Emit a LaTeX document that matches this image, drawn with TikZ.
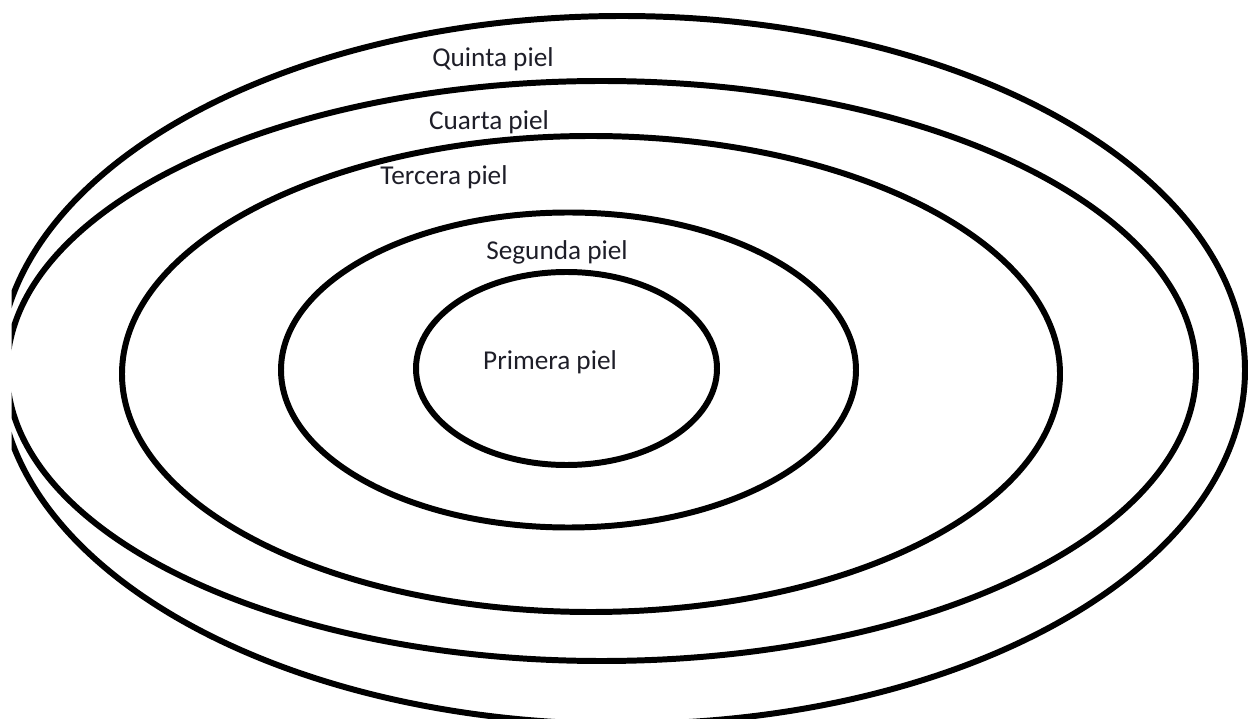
\documentclass[tikz,border=0pt]{standalone}
\usepackage{fontspec}
\setmainfont{Carlito}
\usepackage{xcolor}
\definecolor{inkblack}{RGB}{0,0,0}
\definecolor{labelgray}{RGB}{30,30,40}
\usetikzlibrary{positioning}
\tikzset{
  skin/.style={draw=inkblack,line width=3.4pt},
  skinlabel/.style={text=labelgray,font=\fontsize{15.5}{18}\selectfont,inner sep=0pt},
}
\begin{document}
\begin{tikzpicture}[x=0.02cm,y=-0.02cm]
  \useasboundingbox (0,0) rectangle (1248,719);
  % --- Pieles (elipses) ---
  \begin{scope}
    \clip (11.7,0) rectangle (1248,719);
    \foreach \cx/\cy/\rx/\ry in {622/370/623/354,601.5/371/594.5/290,591/374/469/238,568.5/370/287.5/157.5,566.5/368.5/150.5/96.5}{
      \draw[skin] (\cx,\cy) ellipse [x radius=\rx,y radius=\ry];}
  \end{scope}
  % --- Etiquetas ---
  \node[skinlabel] (quinta)  at (493,59)  {Quinta piel};
  \node[skinlabel] (cuarta)  at (489,122) {Cuarta piel};
  \node[skinlabel] (tercera) at (444,177) {Tercera piel};
  \node[skinlabel] (segunda) at (557,252) {Segunda piel};
  \node[skinlabel] (primera) at (550,362) {Primera piel};
\end{tikzpicture}
\end{document}
